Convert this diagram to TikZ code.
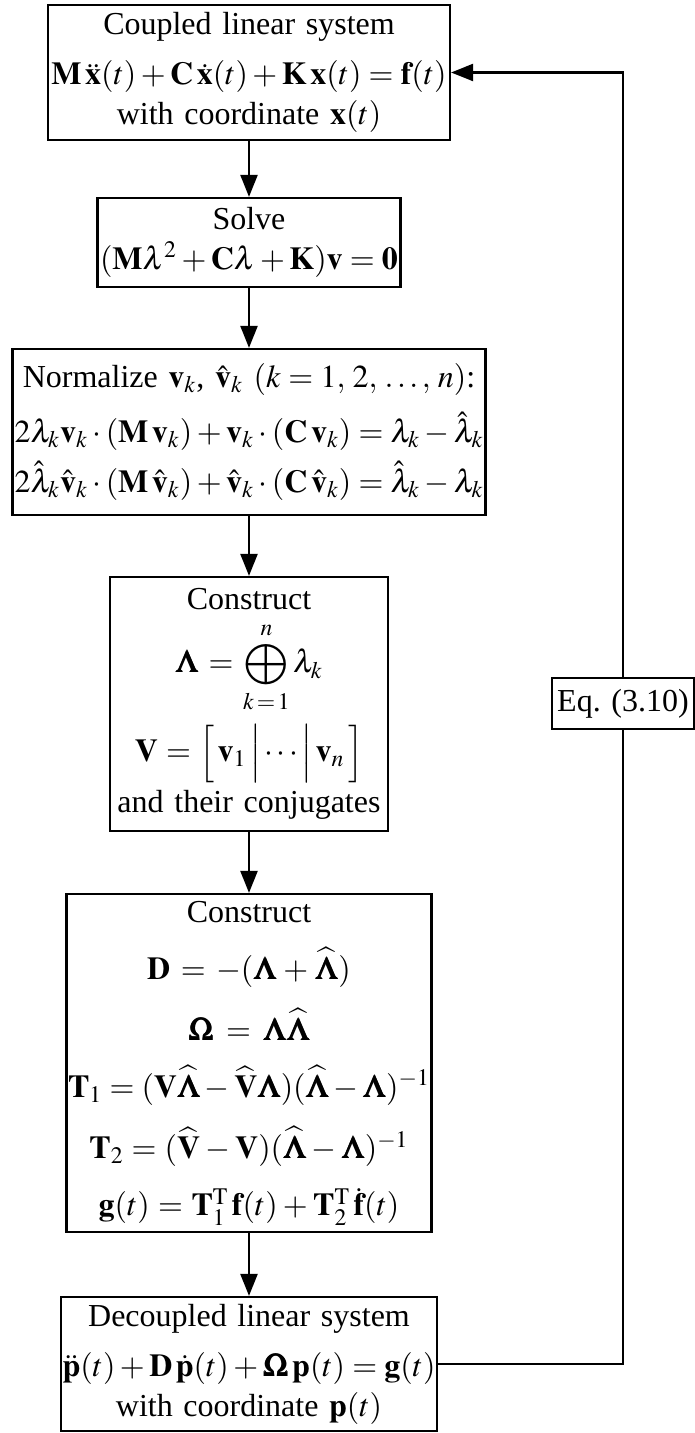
\documentclass[tikz,border=0pt]{standalone}
\usepackage{amsmath}
\usepackage{mathptmx}
\usepackage{bm}
\usepackage{fontspec}
\setmainfont{Liberation Serif}
\usetikzlibrary{arrows.meta}

\begin{document}
\begin{tikzpicture}[x=0.5pt,y=-0.5pt,
    box/.style={rectangle,draw,line width=1.1pt,inner xsep=0pt,inner ysep=2pt,align=center,
        font=\fontsize{16}{19}\selectfont},
    flow/.style={line width=1.1pt,-{Triangle[length=11pt,width=8.5pt]}}]
    \useasboundingbox (0,0) rectangle (695,1433);
    \node[box,text width=201pt,minimum height=67.5pt] at (249,72.5) (coupled) {Coupled linear system\\[6pt]
        $\mathbf{M}\,\ddot{\mathbf{x}}(t)+\mathbf{C}\,\dot{\mathbf{x}}(t)+\mathbf{K}\,\mathbf{x}(t)=\mathbf{f}(t)$\\[1pt]
        with coordinate $\mathbf{x}(t)$};
    \node[box,text width=151.5pt,minimum height=44.5pt] at (249,242.5) (solve) {Solve\\[1pt]
        $(\mathbf{M}\lambda^2+\mathbf{C}\lambda+\mathbf{K})\mathbf{v}=\mathbf{0}$};
    \node[box,text width=236.5pt,minimum height=83pt] at (249,432) (normalize) {Normalize $\mathbf{v}_k$, $\hat{\mathbf{v}}_k$ $(k=1,\,2,\,\ldots,\,n)$:\\[7pt]
        $2\lambda_k\mathbf{v}_k\cdot(\mathbf{M}\,\mathbf{v}_k)+\mathbf{v}_k\cdot(\mathbf{C}\,\mathbf{v}_k)=\lambda_k-\hat{\lambda}_k$\\[4.5pt]
        $2\hat{\lambda}_k\hat{\mathbf{v}}_k\cdot(\mathbf{M}\,\hat{\mathbf{v}}_k)+\hat{\mathbf{v}}_k\cdot(\mathbf{C}\,\hat{\mathbf{v}}_k)=\hat{\lambda}_k-\lambda_k$};
    \node[box,text width=139pt,minimum height=127pt] at (249,704) (eigen) {Construct\\[5pt]
        $\bm{\Lambda}=\displaystyle\bigoplus_{k\,=\,1}^{n}\lambda_k$\\[5pt]
        $\mathbf{V}=\left[\vphantom{\Big|}\,\mathbf{v}_1\,\middle|\,\cdots\,\middle|\,\mathbf{v}_n\,\right]$\\[3pt]
        and their conjugates};
    \node[box,text width=182.5pt,minimum height=169pt] at (249,1063) (modal) {Construct\\[9.5pt]
        $\mathbf{D}=-(\bm{\Lambda}+\widehat{\bm{\Lambda}})$\\[9.5pt]
        $\bm{\Omega}=\bm{\Lambda}\widehat{\bm{\Lambda}}$\\[9.5pt]
        $\mathbf{T}_1=(\mathbf{V}\widehat{\bm{\Lambda}}-\widehat{\mathbf{V}}\bm{\Lambda})(\widehat{\bm{\Lambda}}-\bm{\Lambda})^{-1}$\\[9.5pt]
        $\mathbf{T}_2=(\widehat{\mathbf{V}}-\mathbf{V})(\widehat{\bm{\Lambda}}-\bm{\Lambda})^{-1}$\\[9.5pt]
        $\mathbf{g}(t)=\mathbf{T}_1^{\mathrm{T}}\,\mathbf{f}(t)+\mathbf{T}_2^{\mathrm{T}}\,\dot{\mathbf{f}}(t)$};
    \node[box,text width=188pt,minimum height=67pt] at (249,1364) (decoupled) {Decoupled linear system\\[6pt]
        $\ddot{\mathbf{p}}(t)+\mathbf{D}\,\dot{\mathbf{p}}(t)+\bm{\Omega}\,\mathbf{p}(t)=\mathbf{g}(t)$\\[1pt]
        with coordinate $\mathbf{p}(t)$};
    \node[box,text width=71pt,minimum height=25.5pt] at (623,703.5) (eqref) {Eq.~(3.10)};
    \draw[flow] (coupled) -- (solve);
    \draw[flow] (solve) -- (normalize);
    \draw[flow] (normalize) -- (eigen);
    \draw[flow] (eigen) -- (modal);
    \draw[flow] (modal) -- (decoupled);
    \draw[line width=1.1pt] (decoupled.east) -| (eqref.south);
    \draw[flow] (eqref.north) |- (coupled.east);
\end{tikzpicture}
\end{document}
